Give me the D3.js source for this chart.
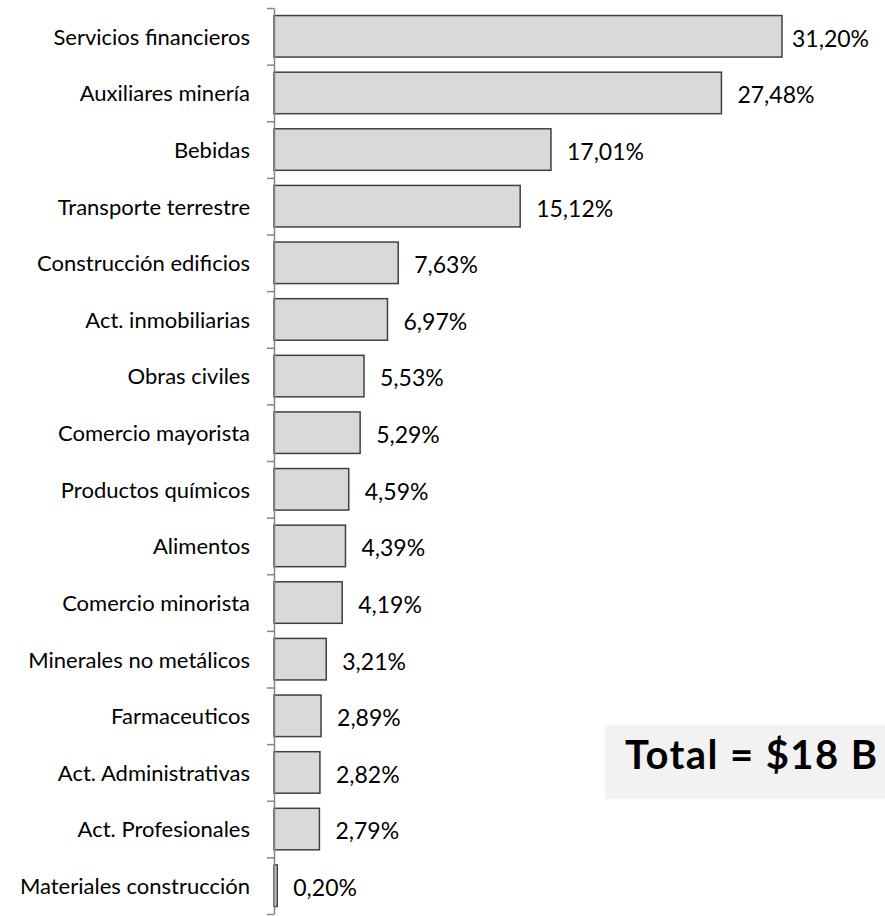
<!DOCTYPE html>
<html>
<head>
<meta charset="utf-8">
<script src="https://cdn.jsdelivr.net/npm/d3@7"></script>
<style>
  body { margin: 0; background: #fff; }
  svg { display: block; }
</style>
</head>
<body>
<script>
const categories = [
  "Servicios financieros", "Auxiliares minería", "Bebidas", "Transporte terrestre",
  "Construcción edificios", "Act. inmobiliarias", "Obras civiles", "Comercio mayorista",
  "Productos químicos", "Alimentos", "Comercio minorista", "Minerales no metálicos",
  "Farmaceuticos", "Act. Administrativas", "Act. Profesionales", "Materiales construcción"
];
const values = [31.20, 27.48, 17.01, 15.12, 7.63, 6.97, 5.53, 5.29, 4.59, 4.39, 4.19, 3.21, 2.89, 2.82, 2.79, 0.20];
const totalLabel = "Total = $18 B";

const W = 885, H = 916;
const axisX = 274, plotTop = 8, plotBottom = 914;
const fmt = v => v.toFixed(2).replace(".", ",") + "%";

const svg = d3.select("body").append("svg").attr("width", W).attr("height", H);

const x = d3.scaleLinear().domain([0, 31.20]).range([axisX, 782]);
const p = 0.267;
const y = d3.scaleBand().domain(categories).range([plotTop, plotBottom]).paddingInner(p).paddingOuter(p / 2);
const yIdx = d3.scaleLinear().domain([0, categories.length]).range([plotTop, plotBottom]);

const data = categories.map((c, i) => ({ c, v: values[i] }));

// bars
svg.append("g").selectAll("rect").data(data).join("rect")
  .attr("x", axisX)
  .attr("y", d => y(d.c))
  .attr("width", d => x(d.v) - axisX)
  .attr("height", y.bandwidth())
  .attr("fill", "#d9d9d9")
  .attr("stroke", "#404040")
  .attr("stroke-width", 1.5);

// axis
const axis = d3.axisLeft(yIdx).tickValues(d3.range(0, categories.length + 1)).tickFormat("").tickSizeInner(7).tickSizeOuter(0);
const ag = svg.append("g").attr("transform", `translate(${axisX},0)`).call(axis);
ag.selectAll("path, line").attr("stroke", "#868686").attr("stroke-width", 1.5);

// category labels
svg.append("g").selectAll("text").data(data).join("text")
  .attr("x", 250)
  .attr("y", d => y(d.c) + y.bandwidth() / 2)
  .attr("dy", "0.38em")
  .attr("text-anchor", "end")
  .attr("font-family", "Lato, sans-serif")
  .attr("font-size", 22)
  .attr("fill", "#000")
  .text(d => d.c);

// value labels
svg.append("g").selectAll("text").data(data).join("text")
  .attr("x", d => Math.min(x(d.v) + 16, 792))
  .attr("y", d => y(d.c) + y.bandwidth() / 2)
  .attr("dy", "0.45em")
  .attr("font-family", "Lato, sans-serif")
  .attr("font-size", 23)
  .attr("fill", "#000")
  .text(d => fmt(d.v));

// total box
svg.append("rect").attr("x", 605).attr("y", 725).attr("width", W - 605).attr("height", 74).attr("fill", "#f2f2f2");
svg.append("text").attr("x", 625).attr("y", 769)
  .attr("font-family", "Lato, sans-serif").attr("font-weight", "bold").attr("font-size", 40)
  .attr("textLength", 252).attr("lengthAdjust", "spacing")
  .attr("fill", "#000").text(totalLabel);
</script>
</body>
</html>
